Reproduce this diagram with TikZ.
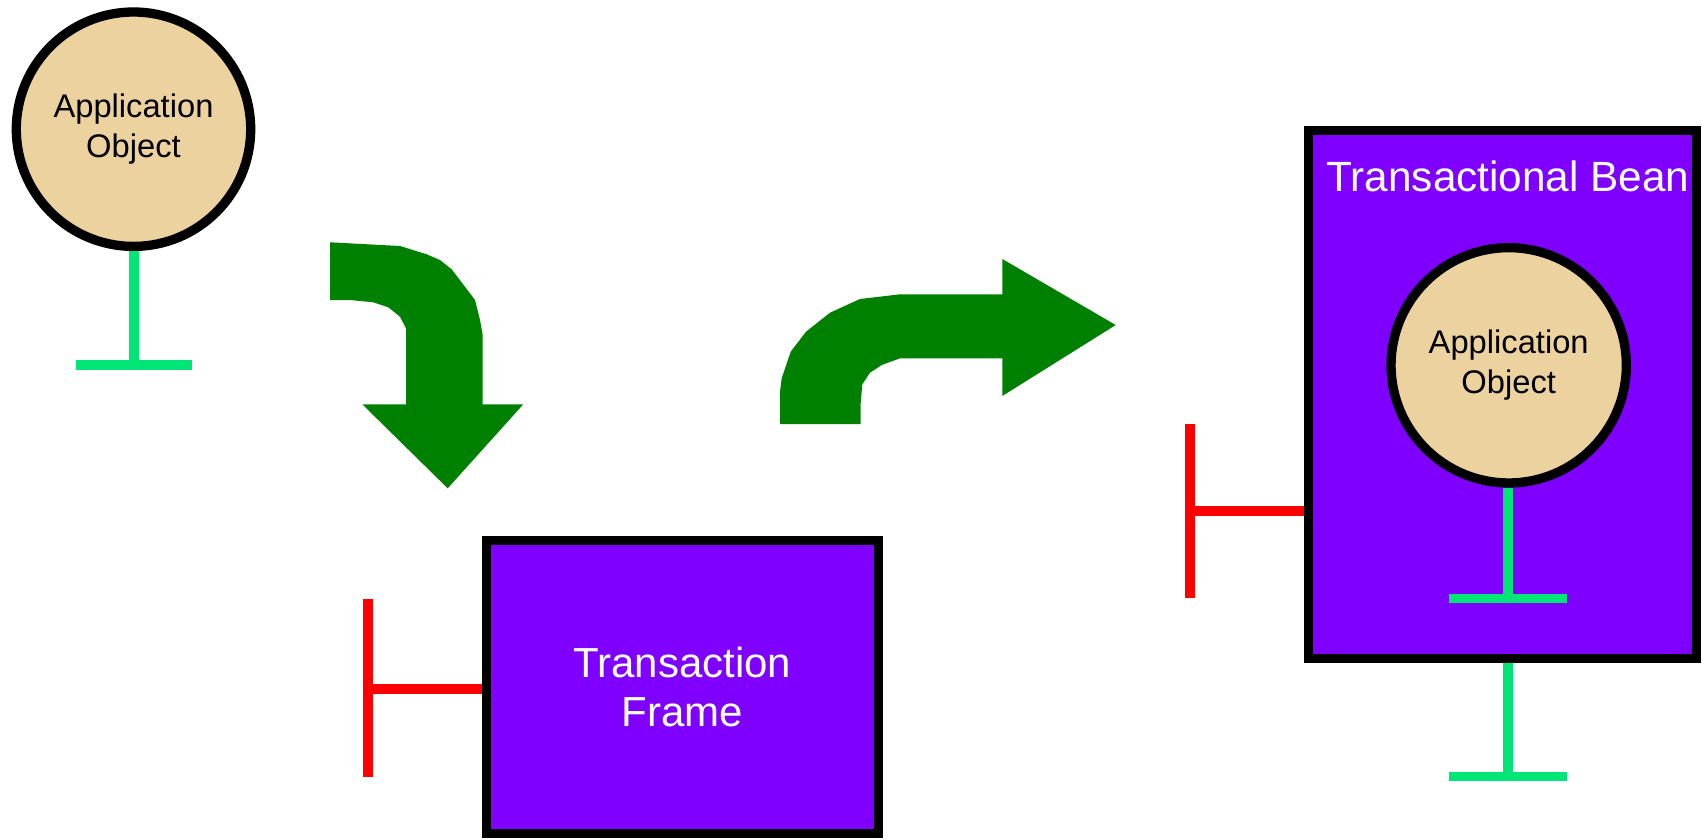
\documentclass[tikz,border=0pt]{standalone}
\usepackage{fontspec}
\setmainfont{Liberation Sans}
\usetikzlibrary{calc}
\definecolor{boxpurple}{HTML}{8000FF}
\definecolor{objtan}{RGB}{236,210,158}
\definecolor{arrowgreen}{HTML}{008000}
\definecolor{stemgreen}{RGB}{0,230,118}
\definecolor{tred}{HTML}{FF0000}
\tikzset{
  appobj/.style={circle, draw=black, line width=9.3pt, fill=objtan, text=black,
    align=center, inner sep=0pt, font={\fontsize{32.7}{40}\selectfont}},
  purplebox/.style={rectangle, draw=black, line width=9.3pt, fill=boxpurple,
    text=white, align=center, inner sep=0pt, font={\fontsize{42}{49}\selectfont}},
  stemline/.style={draw=stemgreen, line width=9.7pt},
  redline/.style={draw=tred, line width=10pt},
  bigarrow/.style={fill=arrowgreen}
}
\begin{document}
\begin{tikzpicture}[x=1pt,y=-1pt]
\useasboundingbox (0,0) rectangle (1702,839);

% top-left application object
\node[appobj, minimum size=234.4pt] (ao1) at (133.5,129.2) {Application\\Object};
\coordinate (b1) at (134,364.7);
\draw[stemline] (ao1.south -| b1) -- (b1);
\draw[stemline] ($(b1)+(-58,0)$) -- ($(b1)+(58,0)$);

% down-turning arrow
\fill[bigarrow] (330,242.3) -- (400,246) -- (426.7,254.3) -- (440,260) -- (451.7,269.3)
  -- (475,300) -- (480,320) -- (482.7,335) -- (482.7,404.3) -- (523.3,404.3)
  -- (447.7,488.3) -- (362.3,404.3) -- (406,404.3) -- (406,328.3) -- (400,316.7)
  -- (388.3,307.3) -- (373.3,302.3) -- (350,300) -- (330,300) -- cycle;

% transaction frame
\node[purplebox, minimum width=392pt, minimum height=293.4pt] (frame) at (682.3,687) {Transaction\\Frame};
\coordinate (r1) at (368,688.7);
\draw[redline] (frame.west |- r1) -- (r1);
\draw[redline] ($(r1)+(0,-90)$) -- ($(r1)+(0,88)$);

% up-turning arrow
\fill[bigarrow] (780,424) -- (780,391.7) -- (781.7,378.3) -- (790.7,351.7) -- (806,331.7)
  -- (830,312.7) -- (860,299) -- (900,294.3) -- (1002.3,294.3) -- (1002.3,259)
  -- (1115.7,325) -- (1002.3,396) -- (1002.3,358.3) -- (900,358.3) -- (881.7,365)
  -- (870,372.7) -- (862.3,384.3) -- (860.7,403.3) -- (860.7,424) -- cycle;

% transactional bean
\node[purplebox, minimum width=387.6pt, minimum height=528.2pt] (bean) at (1502.5,394.5) {};
\node[text=white, font={\fontsize{42.3}{50}\selectfont}, anchor=base, inner sep=0pt] (beantitle) at (1507.9,191) {Transactional Bean};
\node[appobj, minimum size=235.3pt] (ao2) at (1508.7,365.3) {Application\\Object};
\coordinate (b2) at (1508,598.5);
\draw[stemline] (ao2.south -| b2) -- (b2);
\draw[stemline] ($(b2)+(-59,0)$) -- ($(b2)+(59,0)$);
\coordinate (b3) at (1508,776.5);
\draw[stemline] (bean.south -| b3) -- (b3);
\draw[stemline] ($(b3)+(-59,0)$) -- ($(b3)+(59,0)$);
\coordinate (r2) at (1190.4,510.5);
\draw[redline] (bean.west |- r2) -- (r2);
\draw[redline] ($(r2)+(0,-86.2)$) -- ($(r2)+(0,87.8)$);
\end{tikzpicture}
\end{document}
